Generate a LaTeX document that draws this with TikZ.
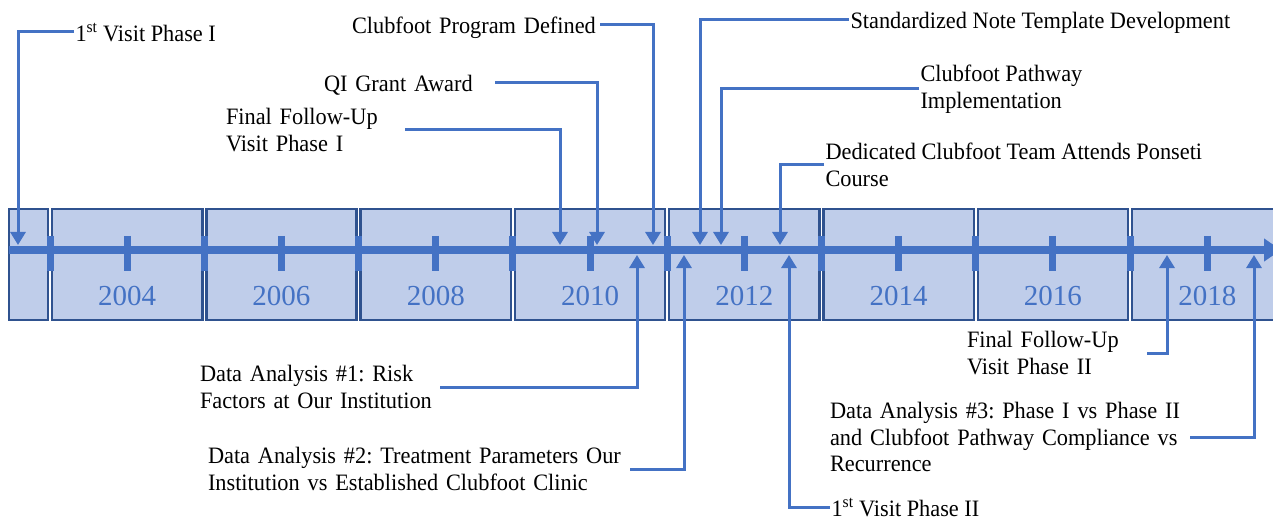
\documentclass[tikz,border=0pt]{standalone}
\usepackage{fontspec}
\setmainfont{Liberation Serif}
\newfontfamily\labfont[FakeStretch=0.95]{Liberation Serif}
\usetikzlibrary{arrows.meta}
\definecolor{lineblue}{HTML}{4472C4}
\definecolor{boxfill}{HTML}{BFCDEA}
\definecolor{boxedge}{HTML}{2F528F}
\newcommand{\nb}[1]{\mbox{#1}}
\begin{document}
\frenchspacing
\begin{tikzpicture}[x=1pt,y=-1pt,
  yearbox/.style={fill=boxfill,draw=boxedge,line width=2.5pt},
  yeartext/.style={text=lineblue,font=\fontsize{29}{32}\selectfont,anchor=base,inner sep=0pt},
  axisline/.style={draw=lineblue,line width=7pt,-{Triangle[length=17pt,width=22pt]}},
  tickmark/.style={draw=lineblue,line width=7pt},
  lab/.style={inner sep=0pt,outer sep=0pt,align=left,font=\labfont\fontsize{23.5}{26.8}\selectfont\frenchspacing,text=black,anchor=west},
  one/.style={lab,text depth=0pt},
  lft/.style={outer xsep=1.5pt},
  conn/.style={draw=lineblue,line width=3pt,-{Triangle[length=13pt,width=15pt]}},
]
\useasboundingbox (0,0) rectangle (1273,521);
\clip (0,0) rectangle (1273,521);

% year boxes
\draw[yearbox] (9,209) rectangle (48,320);
\foreach \k in {0,...,6}{
  \draw[yearbox] ({50+154.3*\k+2},209) rectangle ({50+154.3*(\k+1)-2},320);
}
\draw[yearbox] ({50+154.3*7+2},209) rectangle (1295,320);

% axis
\coordinate (axL) at (9,250);
\coordinate (axR) at (1281,250);
\draw[axisline] (axL) -- (axR);
\foreach \i in {0,...,15}{
  \draw[tickmark] ({50+77.15*\i},236) -- ({50+77.15*\i},271);
}

% year labels
\node[yeartext] (y2004) at ({50+77.15*1},305) {2004};
\node[yeartext] (y2006) at ({50+77.15*3},305) {2006};
\node[yeartext] (y2008) at ({50+77.15*5},305) {2008};
\node[yeartext] (y2010) at ({50+77.15*7},305) {2010};
\node[yeartext] (y2012) at ({50+77.15*9},305) {2012};
\node[yeartext] (y2014) at ({50+77.15*11},305) {2014};
\node[yeartext] (y2016) at ({50+77.15*13},305) {2016};
\node[yeartext] (y2018) at ({50+77.15*15},305) {2018};

% arrow tips on the axis
\coordinate (a1) at (18,245);
\coordinate (a2) at (653,245);
\coordinate (a3) at (597,245);
\coordinate (a4) at (560,245);
\coordinate (a5) at (700,245);
\coordinate (a6) at (721,245);
\coordinate (a7) at (780,245);
\coordinate (a8) at (637,255);
\coordinate (a9) at (684,255);
\coordinate (a10) at (789,255);
\coordinate (a11) at (1167,255);
\coordinate (a12) at (1254,255);

% labels above
\node[one,lft] (n1) at (74,32) {1\textsuperscript{st} Visit Phase I};
\node[one,text width=248pt] (n2) at (352,25) {\nb{Clubfoot Program Defined}};
\node[one,text width=171pt] (n3) at (324,83) {\nb{QI Grant Award}};
\node[lab,text width=179pt] (n4) at (226,130) {\nb{Final Follow-Up}\\\nb{Visit Phase I}};
\node[one,lft] (n5) at (849,20) {Standardized Note Template Development};
\node[lab,lft] (n6) at (919,89) {Clubfoot Pathway\\Implementation};
\node[lab,lft] (n7) at (824,165) {Dedicated Clubfoot Team Attends Ponseti\\Course};

% labels below
\node[lab,text width=240pt] (n8) at (200,387) {\nb{Data Analysis \#1: Risk}\\\nb{Factors at Our Institution}};
\node[lab,text width=422pt] (n9) at (208,469) {\nb{Data Analysis \#2: Treatment Parameters Our}\\\nb{Institution vs Established Clubfoot Clinic}};
\node[one,lft] (n10) at (830,507) {1\textsuperscript{st} Visit Phase II};
\node[lab,text width=180pt] (n11) at (967,353) {\nb{Final Follow-Up}\\\nb{Visit Phase II}};
\node[lab,text width=360pt] (n12) at (830,437) {\nb{Data Analysis \#3: Phase I vs Phase II}\\\nb{and Clubfoot Pathway Compliance vs}\\\nb{Recurrence}};

% connectors
\draw[conn] (n1.west) -| (a1);
\draw[conn] (n2.east) -| (a2);
\draw[conn] (n3.east) -| (a3);
\draw[conn] (n4.east) -| (a4);
\draw[conn] (n5.west) -| (a5);
\draw[conn] (n6.west) -| (a6);
\draw[conn] (n7.west) -| (a7);
\draw[conn] (n8.east) -| (a8);
\draw[conn] (n9.east) -| (a9);
\draw[conn] (n10.west) -| (a10);
\draw[conn] (n11.east) -| (a11);
\draw[conn] (n12.east) -| (a12);
\end{tikzpicture}
\end{document}
